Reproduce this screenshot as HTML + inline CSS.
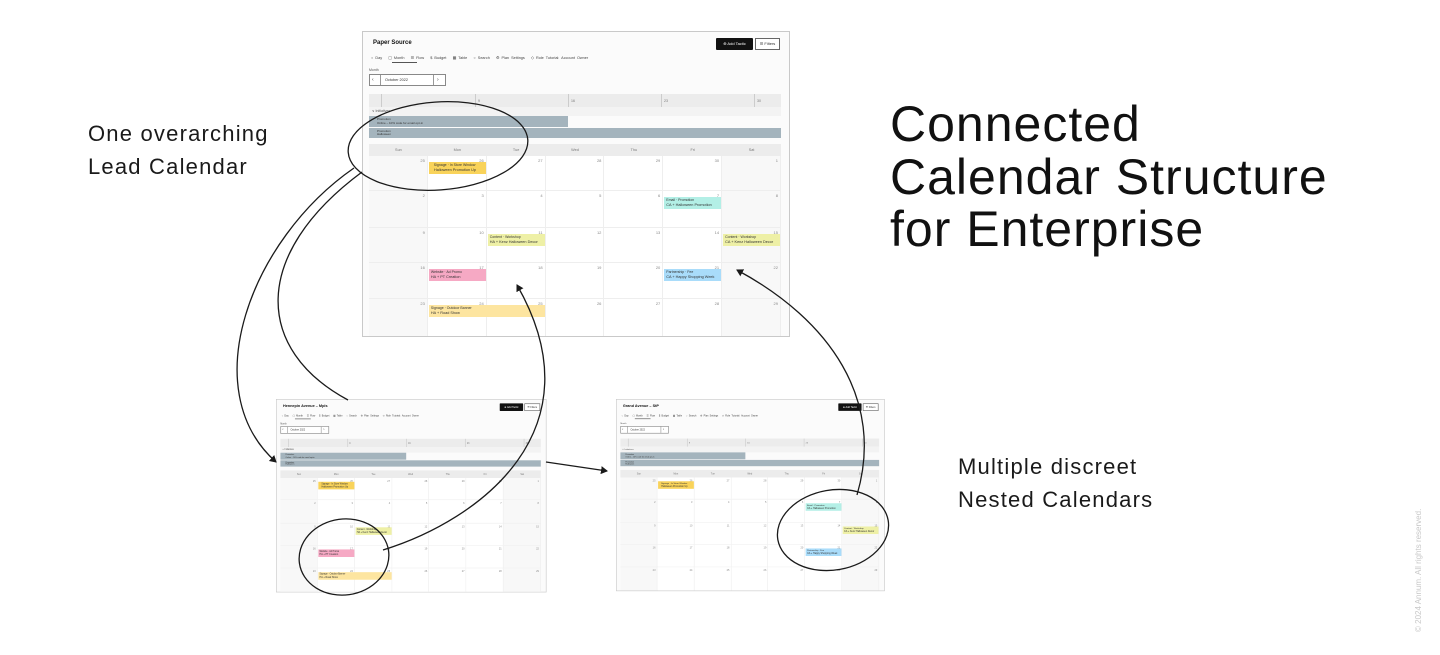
<!DOCTYPE html>
<html><head><meta charset="utf-8">
<style>
html,body{margin:0;padding:0;background:#fff;}
body{width:1440px;height:655px;position:relative;overflow:hidden;font-family:"Liberation Sans",sans-serif;color:#111;}
.lbl{position:absolute;font-size:22px;letter-spacing:1.2px;line-height:33px;color:#1a1a1a;white-space:nowrap;}
.title{position:absolute;left:890px;top:98px;font-size:50px;letter-spacing:1px;line-height:52.5px;color:#111;white-space:nowrap;}
.copy{position:absolute;left:1414px;top:632px;transform:rotate(-90deg);transform-origin:0 0;font-size:8px;color:#c8c8c8;white-space:nowrap;}
.cal{position:absolute;width:428px;height:306px;background:#fbfbfb;border:1px solid #c9c9c9;box-sizing:border-box;transform-origin:0 0;overflow:hidden;font-size:4px;color:#333;}
.cal .a{position:absolute;}
.cell{position:absolute;border-right:1px solid #eee;border-bottom:1px solid #eee;box-sizing:border-box;background:#fff;}
.num{position:absolute;right:2px;top:2px;font-size:4px;color:#888;}
.ev{position:absolute;font-size:3.5px;line-height:4.5px;padding:1px 2px;box-sizing:border-box;color:#333;}
</style></head><body>

<div class="lbl" style="left:88px;top:117px;">One overarching<br>Lead Calendar</div>
<div class="title">Connected<br>Calendar Structure<br>for Enterprise</div>
<div class="lbl" style="left:958px;top:450px;">Multiple discreet<br>Nested Calendars</div>
<div class="copy">© 2024 Annum. All rights reserved.</div>

<div id="c1" class="cal" style="left:362px;top:31px;"></div>
<div id="c2" class="cal" style="left:276px;top:399px;transform:scale(0.632);"></div>
<div id="c3" class="cal" style="left:616px;top:399px;transform:scale(0.628);"></div>

<svg width="1440" height="655" style="position:absolute;left:0;top:0;pointer-events:none" fill="none" stroke="#1a1a1a" stroke-width="1.3">
<defs><marker id="ah" markerWidth="8" markerHeight="8" refX="6" refY="4" orient="auto" markerUnits="userSpaceOnUse"><path d="M0,0 L7,4 L0,8 Z" fill="#1a1a1a" stroke="none"/></marker></defs>
<ellipse cx="438" cy="146" rx="90" ry="44" transform="rotate(-4 438 146)"/>
<path d="M354,168 C 250,240 195,390 276,462" marker-end="url(#ah)"/>
<path d="M362,172 C 250,255 255,350 348,400"/>
<ellipse cx="344" cy="557" rx="45" ry="38" transform="rotate(-8 344 557)"/>
<path d="M383,550 C 480,520 600,430 517,285" marker-end="url(#ah)"/>
<path d="M546,462 L607,471" marker-end="url(#ah)"/>
<ellipse cx="833" cy="530" rx="56" ry="40" transform="rotate(-10 833 530)"/>
<path d="M857,495 C 885,400 830,320 737,270" marker-end="url(#ah)"/>
</svg>

<script>
function build(id,title,evset){
 var c=document.getElementById(id),h='';
 h+='<div class="a" style="left:10px;top:8px;font-size:6px;font-weight:bold;color:#111">'+title+'</div>';
 h+='<div class="a" style="left:353px;top:6px;width:37px;height:12px;background:#111;border-radius:1px;color:#fff;font-size:4px;line-height:12px;text-align:center">⊕ Add Tactic</div>';
 h+='<div class="a" style="left:392px;top:6px;width:25px;height:12px;border:1px solid #666;box-sizing:border-box;font-size:4px;line-height:10px;text-align:center;background:#fff">☰ Filters</div>';
 h+='<div class="a" style="left:8px;top:23px;font-size:3.8px;color:#444;white-space:nowrap;word-spacing:1px">○ Day &nbsp; ▢ Month &nbsp; ☰ Flow &nbsp; $ Budget &nbsp; ▦ Table &nbsp; ○ Search &nbsp; ⚙ Plan Settings &nbsp; ◇ Role Tutorial: Account Owner</div>';
 h+='<div class="a" style="left:29px;top:30px;width:25px;height:1px;background:#555"></div>';
 h+='<div class="a" style="left:6px;top:36px;font-size:3.5px;color:#555">Month</div>';
 h+='<div class="a" style="left:6px;top:42px;width:77px;height:12px;border:1px solid #888;box-sizing:border-box;background:#fff"><div class="a" style="left:10px;top:0;width:1px;height:10px;background:#999"></div><div class="a" style="left:63px;top:0;width:1px;height:10px;background:#999"></div><div class="a" style="left:2px;top:2px;font-size:5px">‹</div><div class="a" style="left:67px;top:2px;font-size:5px">›</div><div class="a" style="left:15px;top:3px;font-size:3.8px">October 2022</div></div>';
 h+='<div class="a" style="left:6px;top:62px;width:412px;height:13px;background:#ececec"></div>';
 [18,112,205,298,391].forEach(function(x,i){h+='<div class="a" style="left:'+x+'px;top:62px;width:1px;height:13px;background:#ccc"></div><div class="a" style="left:'+(x+3)+'px;top:67px;font-size:3.5px;color:#777">'+['','9','16','23','30'][i]+'</div>';});
 h+='<div class="a" style="left:6px;top:75px;width:412px;height:9px;background:#f3f3f3"></div><div class="a" style="left:9px;top:77px;font-size:3.5px;color:#555">∨ Initiatives</div>';
 h+='<div class="a" style="left:6px;top:84px;width:199px;height:11px;background:#a4b4bd;font-size:3px;line-height:3.5px;padding:2px 0 0 8px;box-sizing:border-box">Promotion<br>Online – 10% code for email opt-in</div>';
 h+='<div class="a" style="left:6px;top:96px;width:412px;height:10px;background:#a4b4bd;font-size:3px;line-height:3.5px;padding:1.5px 0 0 8px;box-sizing:border-box">Promotion<br>Halloween</div>';
 h+='<div class="a" style="left:6px;top:112px;width:412px;height:12px;background:#ececec"></div>';
 var days=['Sun','Mon','Tue','Wed','Thu','Fri','Sat'],cw=412/7;
 days.forEach(function(d,i){h+='<div class="a" style="left:'+(6+i*cw)+'px;width:'+cw+'px;top:116px;text-align:center;font-size:3.8px;color:#777">'+d+'</div>';});
 var rows=[124,159,196,231,267,306],nums=[[25,26,27,28,29,30,1],[2,3,4,5,6,7,8],[9,10,11,12,13,14,15],[16,17,18,19,20,21,22],[23,24,25,26,27,28,29]];
 for(var r=0;r<5;r++)for(var i=0;i<7;i++){var bg=(i==0||i==6)?'#f8f8f8':'#fff';
  h+='<div class="cell" style="left:'+(6+i*cw)+'px;top:'+rows[r]+'px;width:'+cw+'px;height:'+(rows[r+1]-rows[r])+'px;background:'+bg+'"><div class="num">'+nums[r][i]+'</div></div>';}
 function ev(col,row,span,color,t1,t2){h+='<div class="ev" style="left:'+(7+col*cw)+'px;top:'+(rows[row]+6)+'px;width:'+(span*cw-2)+'px;height:12px;background:'+color+'">'+t1+'<br><span style="font-size:3.8px">'+t2+'</span></div>';}
 ev(1,0,1,'#f9d35a','&nbsp;&nbsp;&nbsp;Signage · In Store Window','&nbsp;&nbsp;&nbsp;Halloween Promotion Up');
 if(evset.indexOf('f')>=0) ev(5,1,1,'#b3efe6','Email · Promotion','CA + Halloween Promotion');
 if(evset.indexOf('t')>=0) ev(2,2,1,'#eef0a6','Content · Workshop','HA + Kenz Halloween Decor');
 if(evset.indexOf('s')>=0) ev(6,2,1,'#eef0a6','Content · Workshop','CA + Kenz Halloween Decor');
 if(evset.indexOf('p')>=0) ev(1,3,1,'#f6a9c4','Website · Ad Promo','HA + PT Creation');
 if(evset.indexOf('b')>=0) ev(5,3,1,'#a9dcfa','Partnership · Fee','CA + Happy Shopping Week');
 if(evset.indexOf('o')>=0) ev(1,4,2,'#fde5a0','Signage · Outdoor Banner','HA + Road Show');
 c.innerHTML=h;
}
build('c1','Paper Source','ftspbo');
build('c2','Hennepin Avenue – Mpls','tpo');
build('c3','Grand Avenue – StP','fsb');
</script>
</body></html>
